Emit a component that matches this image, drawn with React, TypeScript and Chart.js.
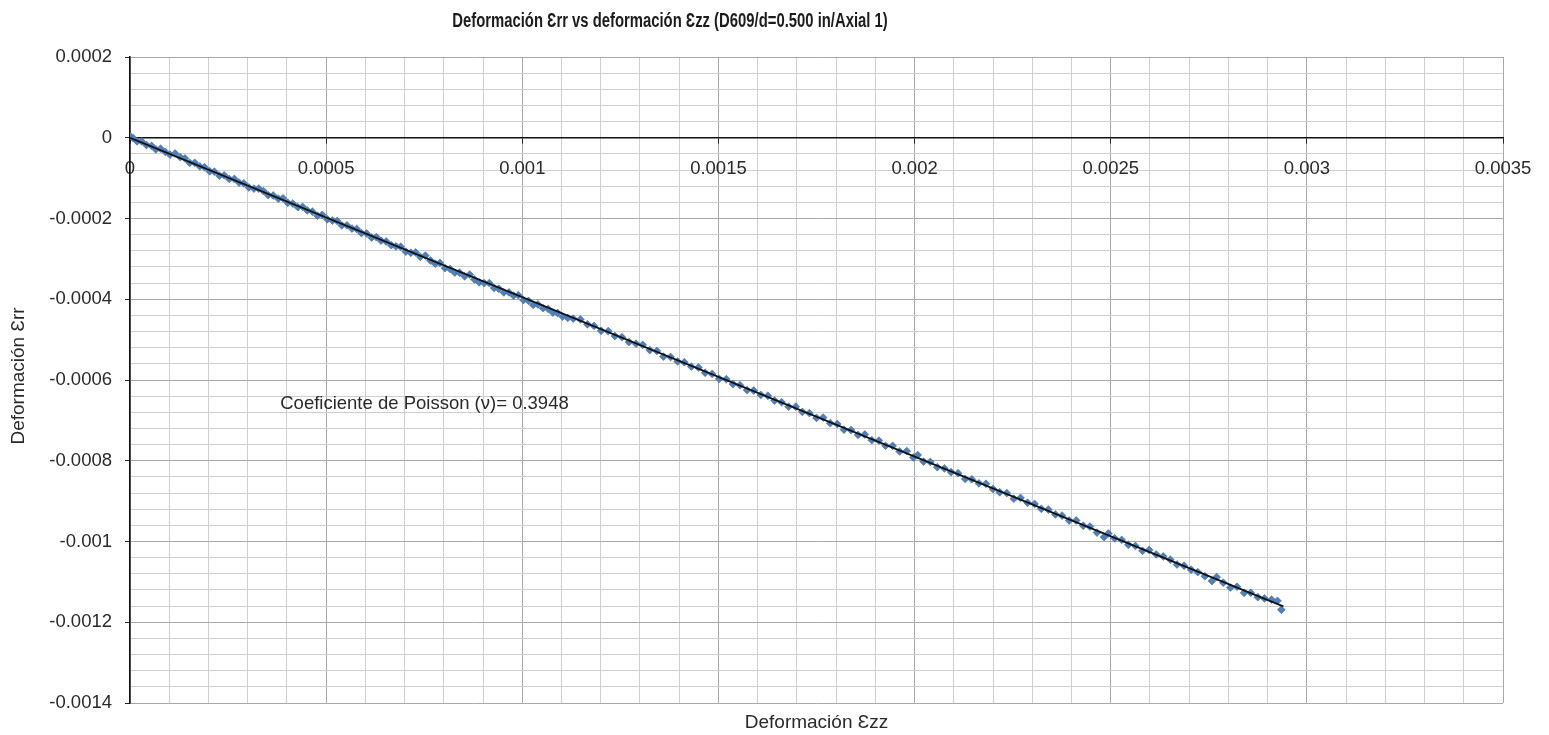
import React, { useEffect, useRef } from "react";
import { Chart, registerables } from "chart.js";

Chart.register(...registerables);

// Axial strain (Ɛzz) readings
const EZZ: number[] = [
  0e-6, 8e-6, 18e-6, 30e-6, 42e-6, 55e-6, 66e-6, 78e-6, 90e-6, 102e-6,
  115e-6, 128e-6, 140e-6, 152e-6, 165e-6, 178e-6, 190e-6, 203e-6, 215e-6, 228e-6,
  240e-6, 253e-6, 266e-6, 278e-6, 290e-6, 303e-6, 316e-6, 328e-6, 340e-6, 352e-6,
  365e-6, 378e-6, 390e-6, 402e-6, 415e-6, 428e-6, 440e-6, 452e-6, 465e-6, 478e-6,
  490e-6, 503e-6, 516e-6, 528e-6, 540e-6, 553e-6, 566e-6, 578e-6, 590e-6, 603e-6,
  616e-6, 628e-6, 640e-6, 653e-6, 666e-6, 678e-6, 690e-6, 703e-6, 716e-6, 728e-6,
  740e-6, 753e-6, 766e-6, 778e-6, 790e-6, 803e-6, 816e-6, 828e-6, 840e-6, 853e-6,
  866e-6, 878e-6, 890e-6, 903e-6, 916e-6, 928e-6, 940e-6, 953e-6, 966e-6, 978e-6,
  990e-6, 1003e-6, 1016e-6, 1028e-6, 1040e-6, 1053e-6, 1066e-6, 1078e-6, 1090e-6, 1103e-6,
  1116e-6, 1130e-6, 1148e-6, 1166e-6, 1183e-6, 1201e-6, 1219e-6, 1236e-6, 1254e-6, 1272e-6,
  1290e-6, 1307e-6, 1325e-6, 1343e-6, 1360e-6, 1378e-6, 1396e-6, 1413e-6, 1431e-6, 1449e-6,
  1466e-6, 1484e-6, 1502e-6, 1520e-6, 1537e-6, 1555e-6, 1573e-6, 1590e-6, 1608e-6, 1626e-6,
  1643e-6, 1661e-6, 1679e-6, 1697e-6, 1714e-6, 1732e-6, 1750e-6, 1767e-6, 1785e-6, 1803e-6,
  1820e-6, 1838e-6, 1856e-6, 1873e-6, 1891e-6, 1909e-6, 1926e-6, 1944e-6, 1962e-6, 1980e-6,
  1997e-6, 2008e-6, 2023e-6, 2040e-6, 2058e-6, 2076e-6, 2093e-6, 2111e-6, 2129e-6, 2146e-6,
  2164e-6, 2182e-6, 2200e-6, 2217e-6, 2235e-6, 2253e-6, 2270e-6, 2288e-6, 2306e-6, 2323e-6,
  2341e-6, 2359e-6, 2376e-6, 2394e-6, 2412e-6, 2430e-6, 2447e-6, 2465e-6, 2483e-6, 2494e-6,
  2510e-6, 2528e-6, 2545e-6, 2563e-6, 2581e-6, 2598e-6, 2616e-6, 2634e-6, 2652e-6, 2669e-6,
  2687e-6, 2705e-6, 2722e-6, 2740e-6, 2758e-6, 2770e-6, 2787e-6, 2805e-6, 2822e-6, 2840e-6,
  2857e-6, 2875e-6, 2892e-6, 2910e-6, 2925e-6, 2935e-6,
];

// Radial strain (Ɛrr) readings, paired with EZZ
const ERR: number[] = [
  4e-6, -1e-6, -9e-6, -9e-6, -18e-6, -20e-6, -29e-6, -27e-6, -35e-6, -42e-6,
  -39e-6, -48e-6, -51e-6, -62e-6, -62e-6, -71e-6, -73e-6, -83e-6, -84e-6, -94e-6,
  -93e-6, -102e-6, -102e-6, -111e-6, -113e-6, -123e-6, -126e-6, -126e-6, -132e-6, -142e-6,
  -143e-6, -151e-6, -150e-6, -161e-6, -163e-6, -172e-6, -171e-6, -180e-6, -183e-6, -193e-6,
  -191e-6, -202e-6, -205e-6, -206e-6, -217e-6, -217e-6, -225e-6, -226e-6, -236e-6, -237e-6,
  -247e-6, -246e-6, -255e-6, -257e-6, -266e-6, -269e-6, -270e-6, -282e-6, -285e-6, -284e-6,
  -295e-6, -292e-6, -304e-6, -312e-6, -310e-6, -323e-6, -325e-6, -334e-6, -334e-6, -343e-6,
  -339e-6, -351e-6, -358e-6, -360e-6, -360e-6, -372e-6, -374e-6, -383e-6, -383e-6, -391e-6,
  -390e-6, -402e-6, -404e-6, -414e-6, -413e-6, -422e-6, -424e-6, -433e-6, -434e-6, -443e-6,
  -446e-6, -448e-6, -450e-6, -462e-6, -466e-6, -478e-6, -479e-6, -491e-6, -494e-6, -506e-6,
  -510e-6, -513e-6, -526e-6, -528e-6, -542e-6, -543e-6, -554e-6, -556e-6, -567e-6, -569e-6,
  -582e-6, -585e-6, -597e-6, -598e-6, -610e-6, -613e-6, -625e-6, -626e-6, -637e-6, -639e-6,
  -651e-6, -655e-6, -666e-6, -666e-6, -679e-6, -682e-6, -694e-6, -693e-6, -707e-6, -709e-6,
  -723e-6, -724e-6, -736e-6, -735e-6, -749e-6, -750e-6, -763e-6, -763e-6, -777e-6, -776e-6,
  -792e-6, -786e-6, -802e-6, -803e-6, -816e-6, -819e-6, -828e-6, -831e-6, -845e-6, -846e-6,
  -856e-6, -857e-6, -870e-6, -878e-6, -880e-6, -894e-6, -892e-6, -904e-6, -907e-6, -919e-6,
  -921e-6, -933e-6, -936e-6, -948e-6, -948e-6, -961e-6, -963e-6, -978e-6, -989e-6, -980e-6,
  -992e-6, -996e-6, -1008e-6, -1011e-6, -1023e-6, -1021e-6, -1032e-6, -1037e-6, -1045e-6, -1057e-6,
  -1060e-6, -1070e-6, -1076e-6, -1086e-6, -1098e-6, -1088e-6, -1102e-6, -1114e-6, -1112e-6, -1127e-6,
  -1127e-6, -1138e-6, -1141e-6, -1144e-6, -1147e-6, -1169e-6,
];

// Fitted Poisson ratio and the extent of the fitted line
const POISSON = 0.3948;
const FIT_X: number[] = [0, 0.00294];

// Axis ranges and steps
const X_MIN = 0;
const X_MAX = 0.0035;
const X_MINOR = 0.0001;
const X_MAJOR = 0.0005;
const Y_MIN = -0.0014;
const Y_MAX = 0.0002;
const Y_MINOR = 0.00004;
const Y_MAJOR = 0.0002;

const TITLE = "Deformación Ɛrr vs deformación Ɛzz (D609/d=0.500 in/Axial 1)";
const X_TITLE = "Deformación Ɛzz";
const Y_TITLE = "Deformación Ɛrr";
const NOTE = `Coeficiente de Poisson (ν)= ${POISSON}`;
const NOTE_AT = { x: 0.000383, y: -0.00066 };

const FONT = '"Liberation Sans", Arial, sans-serif';

const isMajor = (v: number, step: number) =>
  Math.abs(v / step - Math.round(v / step)) < 1e-6;
const fmt = (v: number) => {
  const s = Number(v.toFixed(4)).toString();
  return s === "-0" ? "0" : s;
};

const textPlugin = {
  id: "chartTexts",
  afterDraw(chart: any) {
    const { ctx, chartArea, scales } = chart;
    ctx.save();
    ctx.fillStyle = "#1c1c1c";
    ctx.textBaseline = "middle";

    // Title (narrow bold face)
    ctx.save();
    ctx.font = `bold 20px ${FONT}`;
    ctx.textAlign = "center";
    ctx.translate(670, 21);
    ctx.scale(0.742, 1);
    ctx.fillText(TITLE, 0, 0);
    ctx.restore();

    // Horizontal axis title
    ctx.font = `19px ${FONT}`;
    ctx.textAlign = "center";
    ctx.fillStyle = "#2a2a2a";
    ctx.fillText(X_TITLE, (chartArea.left + chartArea.right) / 2, 723);

    // Vertical axis title
    ctx.save();
    ctx.translate(19, 376);
    ctx.rotate(-Math.PI / 2);
    ctx.fillText(Y_TITLE, 0, 0);
    ctx.restore();

    // Poisson ratio note
    ctx.textAlign = "left";
    ctx.font = `18.5px ${FONT}`;
    ctx.fillText(
      NOTE,
      scales.x.getPixelForValue(NOTE_AT.x),
      scales.y.getPixelForValue(NOTE_AT.y)
    );
    ctx.restore();
  },
};

export default function App() {
  const canvasRef = useRef<HTMLCanvasElement | null>(null);

  useEffect(() => {
    const canvas = canvasRef.current;
    if (!canvas) return;

    const points = EZZ.map((x, i) => ({ x, y: ERR[i] }));
    const fit = FIT_X.map((x) => ({ x, y: -POISSON * x }));

    const gridColor = (ctx: any, step: number) =>
      ctx.tick && isMajor(ctx.tick.value, step) ? "#a9a9a9" : "#cfcfcf";
    const tickColor = (ctx: any, step: number) =>
      ctx.tick && isMajor(ctx.tick.value, step) ? "#222222" : "rgba(0,0,0,0)";

    const chart = new Chart(canvas, {
      type: "scatter",
      data: {
        datasets: [
          {
            type: "line",
            label: "Ajuste",
            data: fit,
            borderColor: "#111111",
            borderWidth: 1.8,
            pointRadius: 0,
            fill: false,
            order: 0,
          } as any,
          {
            label: "Ɛrr",
            data: points,
            pointStyle: "rectRot",
            pointRadius: 3.9,
            backgroundColor: "#4f81bd",
            borderColor: "#3c679c",
            borderWidth: 0.6,
            order: 1,
          },
        ],
      },
      options: {
        responsive: false,
        animation: false,
        events: [],
        layout: { padding: { top: 57, right: 46, bottom: 32, left: 0 } },
        plugins: {
          legend: { display: false },
          tooltip: { enabled: false },
          title: { display: false },
        },
        scales: {
          x: {
            type: "linear",
            position: { y: 0 } as any,
            min: X_MIN,
            max: X_MAX,
            grid: {
              color: (c: any) => gridColor(c, X_MAJOR),
              tickColor: (c: any) => tickColor(c, X_MAJOR),
              tickLength: 5,
              lineWidth: 1,
            },
            border: { color: "#111111", width: 1.6 },
            ticks: {
              stepSize: X_MINOR,
              autoSkip: false,
              maxRotation: 0,
              padding: 15,
              color: "#2a2a2a",
              font: { family: FONT, size: 18.5 },
              callback: (v: any) => (isMajor(Number(v), X_MAJOR) ? fmt(Number(v)) : ""),
            },
            afterFit: (s: any) => {
              s.paddingLeft = 0;
              s.paddingRight = 0;
            },
          },
          y: {
            type: "linear",
            position: "left",
            min: Y_MIN,
            max: Y_MAX,
            grid: {
              color: (c: any) => gridColor(c, Y_MAJOR),
              tickColor: (c: any) => tickColor(c, Y_MAJOR),
              tickLength: 5,
              lineWidth: 1,
            },
            border: { color: "#111111", width: 1.6 },
            ticks: {
              stepSize: Y_MINOR,
              autoSkip: false,
              padding: 13,
              color: "#2a2a2a",
              font: { family: FONT, size: 18.5 },
              callback: (v: any) => (isMajor(Number(v), Y_MAJOR) ? fmt(Number(v)) : ""),
            },
            afterFit: (s: any) => {
              s.width = 130;
              s.paddingTop = 0;
              s.paddingBottom = 0;
            },
          },
        },
      },
      plugins: [textPlugin],
    });

    return () => chart.destroy();
  }, []);

  return (
    <div style={{ position: "fixed", left: 0, top: 0, width: 1549, height: 735, background: "#ffffff" }}>
      <canvas ref={canvasRef} width={1549} height={735} style={{ display: "block" }} />
    </div>
  );
}
